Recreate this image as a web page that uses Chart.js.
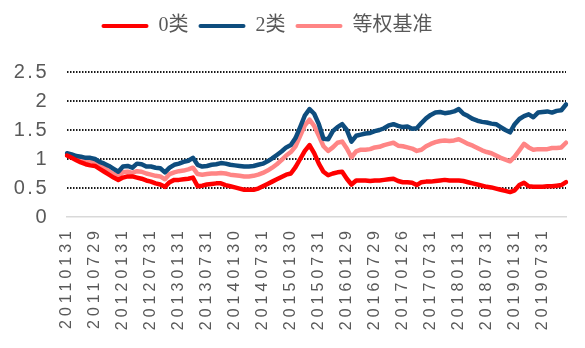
<!DOCTYPE html>
<html>
<head>
<meta charset="utf-8">
<script src="https://cdn.jsdelivr.net/npm/chart.js"></script>
<style>
  body { margin: 0; background: #fff; }
</style>
</head>
<body>
<canvas id="navChart" width="585" height="348"></canvas>
<script>
// monthly points, Jan 2011 .. Dec 2019
const months = [];
for (let y = 2011; y <= 2019; y++) {
    for (let m = 1; m <= 12; m++) months.push(y + '-' + String(m).padStart(2, '0'));
}

// shown every 6th month
const tickLabels = ['20110131', '20110729', '20120131', '20120731', '20130131', '20130731',
    '20140130', '20140731', '20150130', '20150731', '20160129', '20160729',
    '20170126', '20170731', '20180131', '20180731', '20190131', '20190731'];

const class0 = [
    1.06, 1.02, 0.98, 0.94, 0.91, 0.89, 0.88, 0.83, 0.78, 0.73, 0.68, 0.64,
    0.68, 0.70, 0.70, 0.68, 0.66, 0.63, 0.61, 0.58, 0.56, 0.52, 0.60, 0.64,
    0.64, 0.65, 0.66, 0.68, 0.53, 0.54, 0.56, 0.57, 0.58, 0.58, 0.55, 0.53,
    0.51, 0.49, 0.47, 0.47, 0.47, 0.49, 0.53, 0.57, 0.61, 0.65, 0.69, 0.73,
    0.75, 0.86, 1.00, 1.14, 1.24, 1.10, 0.92, 0.78, 0.72, 0.75, 0.77, 0.78,
    0.66, 0.56, 0.63, 0.63, 0.63, 0.62, 0.63, 0.63, 0.64, 0.65, 0.66, 0.62,
    0.60, 0.60, 0.59, 0.55, 0.60, 0.61, 0.61, 0.62, 0.63, 0.64, 0.63, 0.63,
    0.63, 0.62, 0.60, 0.58, 0.56, 0.54, 0.52, 0.51, 0.49, 0.47, 0.45, 0.43,
    0.46, 0.55, 0.59, 0.53, 0.52, 0.52, 0.52, 0.53, 0.53, 0.54, 0.55, 0.60
];

const class2 = [
    1.10, 1.08, 1.05, 1.04, 1.02, 1.02, 1.00, 0.95, 0.92, 0.88, 0.83, 0.78,
    0.87, 0.88, 0.85, 0.92, 0.91, 0.87, 0.87, 0.85, 0.84, 0.77, 0.85, 0.90,
    0.92, 0.95, 0.97, 1.02, 0.90, 0.87, 0.88, 0.90, 0.91, 0.93, 0.92, 0.90,
    0.89, 0.88, 0.87, 0.87, 0.88, 0.90, 0.92, 0.96, 1.01, 1.07, 1.13, 1.20,
    1.24, 1.36, 1.55, 1.75, 1.86, 1.78, 1.60, 1.35, 1.34, 1.48, 1.55, 1.60,
    1.50, 1.30, 1.40, 1.42, 1.44, 1.45, 1.48, 1.50, 1.53, 1.58, 1.60, 1.57,
    1.55, 1.56, 1.52, 1.53, 1.62, 1.70, 1.76, 1.80, 1.81, 1.79, 1.80, 1.82,
    1.86, 1.78, 1.74, 1.69, 1.66, 1.64, 1.63, 1.61, 1.60, 1.55, 1.50, 1.46,
    1.60, 1.69, 1.74, 1.77, 1.72, 1.80, 1.81, 1.82, 1.80, 1.83, 1.84, 1.94
];

const benchmark = [
    1.07, 1.05, 1.02, 0.98, 0.97, 0.96, 0.94, 0.89, 0.84, 0.79, 0.74, 0.70,
    0.77, 0.78, 0.76, 0.79, 0.78, 0.75, 0.73, 0.71, 0.70, 0.65, 0.74, 0.77,
    0.79, 0.80, 0.82, 0.85, 0.74, 0.73, 0.74, 0.75, 0.75, 0.76, 0.75, 0.73,
    0.72, 0.71, 0.70, 0.70, 0.71, 0.73, 0.76, 0.80, 0.85, 0.91, 0.98, 1.06,
    1.12, 1.22, 1.40, 1.58, 1.68, 1.57, 1.40, 1.22, 1.14, 1.20, 1.28, 1.30,
    1.18, 1.03, 1.13, 1.16, 1.16, 1.17, 1.20, 1.21, 1.24, 1.26, 1.28, 1.23,
    1.22, 1.20, 1.18, 1.14, 1.16, 1.22, 1.26, 1.29, 1.31, 1.32, 1.31, 1.32,
    1.34, 1.30, 1.26, 1.23, 1.19, 1.15, 1.12, 1.10, 1.06, 1.02, 0.99, 0.96,
    1.04, 1.15, 1.26, 1.20, 1.16, 1.17, 1.17, 1.17, 1.19, 1.19, 1.20, 1.28
];

const labelColor = '#595959';

// wide digit spacing on the axis labels, like the original
function spaceLabels(scale, gap) {
    if (scale._spaced) return;
    const draw = scale.drawLabels;
    scale.drawLabels = function (area) {
        this.ctx.save();
        this.ctx.letterSpacing = gap;
        draw.call(this, area);
        this.ctx.restore();
    };
    scale._spaced = true;
}

const layoutTweaks = {
    id: 'layoutTweaks',
    afterInit(chart) {
        const legend = chart.legend;
        const fit = legend.fit;
        legend.fit = function () {
            fit.call(this);
            this.height = 66;
        };
        const draw = legend.draw;
        legend.draw = function () {
            const r = this.right;
            this.right -= 32;
            draw.call(this);
            this.right = r;
        };
    },
    afterUpdate(chart) {
        spaceLabels(chart.scales.x, '4px');
        spaceLabels(chart.scales.y, '2.5px');
    }
};

function lineSet(label, data, color) {
    return {
        label: label,
        data: data,
        borderColor: color,
        backgroundColor: color,
        borderWidth: 4.5,
        pointRadius: 0,
        tension: 0,
        borderJoinStyle: 'round',
        borderCapStyle: 'round'
    };
}

const ctx = document.getElementById('navChart').getContext('2d');
new Chart(ctx, {
    type: 'line',
    data: {
        labels: months,
        datasets: [
            lineSet('0类', class0, '#FF0000'),
            lineSet('2类', class2, '#0E4D7E'),
            lineSet('等权基准', benchmark, '#FF8585')
        ]
    },
    options: {
        responsive: false,
        animation: false,
        devicePixelRatio: 1,
        layout: { padding: { top: 6, right: 19, left: 0, bottom: 0 } },
        plugins: {
            tooltip: { enabled: false },
            legend: {
                position: 'top',
                labels: {
                    boxWidth: 47,
                    boxHeight: 4,
                    padding: 10,
                    useBorderRadius: true,
                    borderRadius: 2,
                    color: labelColor,
                    font: { family: "'Liberation Serif', 'Noto Sans CJK SC'", size: 20 },
                    generateLabels(chart) {
                        return Chart.defaults.plugins.legend.labels.generateLabels(chart)
                            .map(item => Object.assign(item, { lineWidth: 0 }));
                    }
                }
            }
        },
        scales: {
            x: {
                grid: { display: false, drawTicks: false },
                border: { display: true, color: '#D9D9D9', width: 1.5 },
                ticks: {
                    autoSkip: false,
                    minRotation: 90,
                    maxRotation: 90,
                    padding: 10,
                    color: labelColor,
                    font: { family: "'Liberation Sans'", size: 16 },
                    callback: (value, index) => index % 6 === 0 ? tickLabels[index / 6] : null
                },
                afterFit(scale) { scale.height = 131; }
            },
            y: {
                min: 0,
                max: 2.5,
                grid: {
                    drawTicks: false,
                    lineWidth: 2,
                    color: c => c.tick.value === 0 ? 'rgba(0,0,0,0)' : '#1A1A1A'
                },
                border: { display: false, dash: [1.5, 1.5] },
                ticks: {
                    stepSize: 0.5,
                    padding: 18,
                    color: labelColor,
                    font: { family: "'Liberation Sans'", size: 20 },
                    callback: value => String(value)
                },
                afterFit(scale) { scale.width = 67; }
            }
        }
    },
    plugins: [layoutTweaks]
});
</script>
</body>
</html>
